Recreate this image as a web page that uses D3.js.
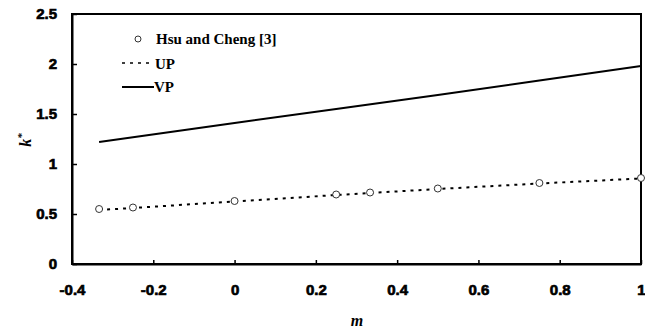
<!DOCTYPE html>
<html>
<head>
<meta charset="utf-8">
<script src="https://cdn.jsdelivr.net/npm/d3@7"></script>
<style>
  body { margin: 0; background: #fff; }
  .tick text { font-family: "Liberation Sans", Arial, sans-serif; font-weight: bold; font-size: 15px; fill: #000; stroke: #000; stroke-width: 0.7px; }
</style>
</head>
<body>
<div id="chart"></div>
<script>
// Hsu and Cheng [3] reference points
const hsuM = [-1 / 3, -0.25, 0, 0.25, 1 / 3, 0.5, 0.75, 1];
const hsuK = [0.55, 0.565, 0.63, 0.695, 0.715, 0.755, 0.81, 0.86];

// UP (dashed) curve
const upM = [-1 / 3, -0.25, 0, 0.25, 1 / 3, 0.5, 0.75, 1];
const upK = [0.54, 0.56, 0.625, 0.69, 0.71, 0.75, 0.805, 0.855];

// VP (solid) curve
const vpM = [-1 / 3, 0, 0.25, 0.5, 0.75, 1];
const vpK = [1.22, 1.41, 1.55, 1.69, 1.835, 1.98];

const xTicks = [-0.4, -0.2, 0, 0.2, 0.4, 0.6, 0.8, 1];
const yTicks = [0, 0.5, 1, 1.5, 2, 2.5];

const width = 645;
const height = 333;
const margin = { top: 14, right: 4, bottom: 69, left: 72 };

const svg = d3
  .select("#chart")
  .append("svg")
  .attr("width", width)
  .attr("height", height);

const x = d3.scaleLinear([-0.4, 1], [margin.left, width - margin.right]);
const y = d3.scaleLinear([0, 2.5], [height - margin.bottom, margin.top]);

// frame
svg
  .append("rect")
  .attr("x", margin.left)
  .attr("y", margin.top)
  .attr("width", width - margin.left - margin.right)
  .attr("height", height - margin.top - margin.bottom)
  .attr("fill", "none")
  .attr("stroke", "#000")
  .attr("stroke-width", 2);

// x axis, ticks pointing inward
svg
  .append("g")
  .attr("transform", `translate(0,${height - margin.bottom})`)
  .call(
    d3
      .axisBottom(x)
      .tickValues(xTicks)
      .tickFormat((d) => String(d))
      .tickSizeInner(-4)
      .tickSizeOuter(0)
      .tickPadding(20)
  )
  .call((g) => g.select(".domain").attr("stroke-width", 2))
  .call((g) => g.selectAll(".tick line").attr("stroke-width", 1.5));

// y axis
svg
  .append("g")
  .attr("transform", `translate(${margin.left},0)`)
  .call(
    d3
      .axisLeft(y)
      .tickValues(yTicks)
      .tickFormat((d) => String(d))
      .tickSizeInner(-5)
      .tickSizeOuter(0)
      .tickPadding(15)
  )
  .call((g) => g.select(".domain").attr("stroke-width", 2))
  .call((g) => g.selectAll(".tick line").attr("stroke-width", 1.5));

// axis titles
svg
  .append("text")
  .attr("x", 357)
  .attr("y", 326)
  .attr("text-anchor", "middle")
  .attr("font-family", "Liberation Serif, serif")
  .attr("font-style", "italic")
  .attr("font-weight", "bold")
  .attr("font-size", 16)
  .text("m");

const ylab = svg
  .append("text")
  .attr("transform", "translate(31,140) rotate(-90)")
  .attr("text-anchor", "middle")
  .attr("font-family", "Liberation Serif, serif")
  .attr("font-style", "italic")
  .attr("font-weight", "bold")
  .attr("font-size", 16);
ylab.append("tspan").text("k");
ylab.append("tspan").attr("dy", -6).attr("font-size", 11).text("*");

const line = d3
  .line()
  .x((d) => x(d[0]))
  .y((d) => y(d[1]));

// VP solid
svg
  .append("path")
  .attr("fill", "none")
  .attr("stroke", "#000")
  .attr("stroke-width", 2)
  .attr("d", line(d3.zip(vpM, vpK)));

// UP dashed
svg
  .append("path")
  .attr("fill", "none")
  .attr("stroke", "#000")
  .attr("stroke-width", 2)
  .attr("stroke-dasharray", "3,5")
  .attr("d", line(d3.zip(upM, upK)));

// Hsu and Cheng circles
svg
  .append("g")
  .selectAll("circle")
  .data(d3.zip(hsuM, hsuK))
  .join("circle")
  .attr("cx", (d) => x(d[0]))
  .attr("cy", (d) => y(d[1]))
  .attr("r", 3.5)
  .attr("fill", "#fff")
  .attr("stroke", "#333")
  .attr("stroke-width", 1);

// legend
const legend = svg
  .append("g")
  .attr("font-family", "Liberation Serif, serif")
  .attr("font-weight", "bold")
  .attr("font-size", 15);

legend
  .append("circle")
  .attr("cx", 138)
  .attr("cy", 39)
  .attr("r", 3)
  .attr("fill", "#fff")
  .attr("stroke", "#333");
legend.append("text").attr("x", 156).attr("y", 44).text("Hsu and Cheng [3]");

legend
  .append("line")
  .attr("x1", 122)
  .attr("x2", 150)
  .attr("y1", 63)
  .attr("y2", 63)
  .attr("stroke", "#000")
  .attr("stroke-width", 1.5)
  .attr("stroke-dasharray", "3,5");
legend.append("text").attr("x", 155).attr("y", 69).text("UP");

legend
  .append("line")
  .attr("x1", 122)
  .attr("x2", 154)
  .attr("y1", 87)
  .attr("y2", 87)
  .attr("stroke", "#000")
  .attr("stroke-width", 2);
legend.append("text").attr("x", 154).attr("y", 92).text("VP");
</script>
</body>
</html>
